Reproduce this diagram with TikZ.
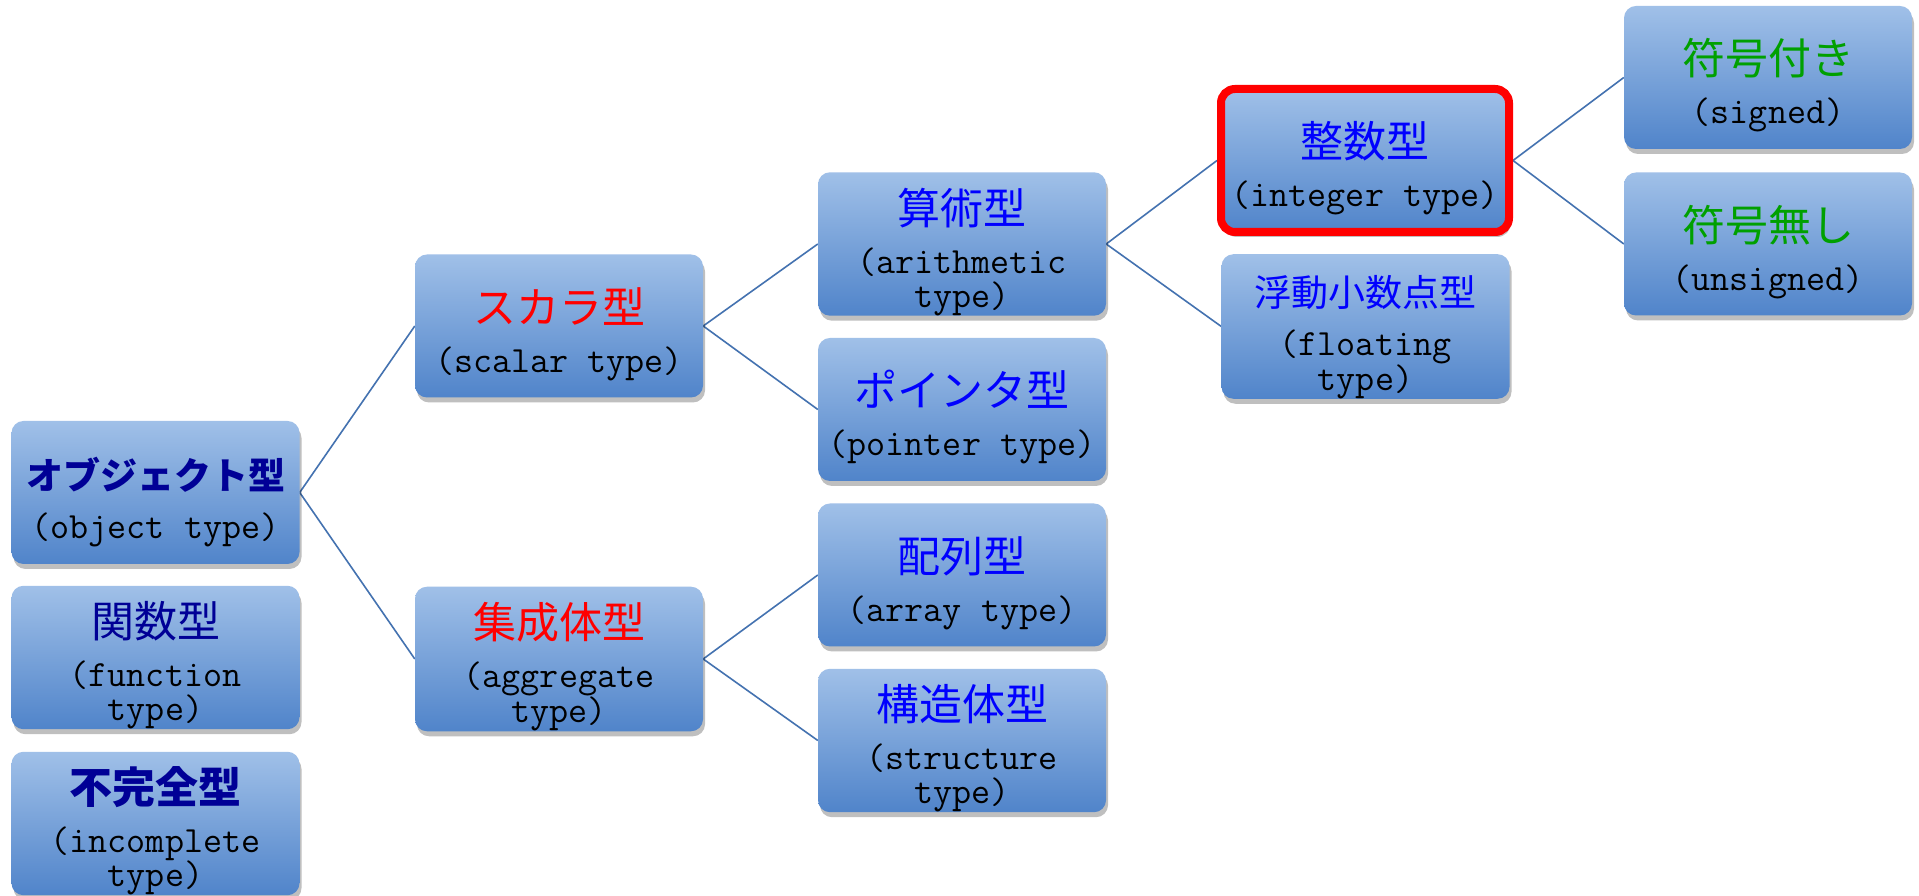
\documentclass[tikz,border=0pt]{standalone}
\usepackage{fontspec}
\usetikzlibrary{shadows,backgrounds}
\newfontfamily\jpf{Noto Sans CJK JP}
\newcommand\jpt[2][43]{{\jpf\fontsize{#1}{#1}\selectfont\rule{0pt}{52pt}#2}}
\definecolor{boxtop}{RGB}{160,192,232}
\definecolor{boxbot}{RGB}{80,132,202}
\definecolor{connc}{RGB}{68,114,176}
\definecolor{navy}{RGB}{0,0,150}
\definecolor{jblue}{RGB}{0,0,255}
\definecolor{jred}{RGB}{255,0,0}
\definecolor{jgreen}{RGB}{0,160,0}
\tikzset{
  tbox/.style={rectangle, rounded corners=12pt, minimum width=288pt, minimum height=143pt,
    inner sep=0pt, top color=boxtop, bottom color=boxbot, draw=none, align=center,
    text=black, font=\ttfamily\fontsize{37}{34}\selectfont,
    drop shadow={shadow xshift=2pt, shadow yshift=-5pt, opacity=0.25, fill=black}},
  redbox/.style={tbox, draw=jred, line width=8pt, rounded corners=14pt},
  conn/.style={draw=connc, line width=1.6pt},
}
\begin{document}
\begin{tikzpicture}[x=1pt,y=1pt]
\useasboundingbox (0,0) rectangle (1919,896);
% column 1
\node[tbox] (obj) at (155.5,403.5) {\jpt[37]{\color{navy}\bfseries オブジェクト型}\\[15pt](object type)};
\node[tbox] (func) at (155.5,238.5) {\jpt{\color{navy}関数型}\\[15pt](function\\type)};
\node[tbox] (incomp) at (155.5,72.5) {\jpt{\color{navy}\bfseries 不完全型}\\[15pt](incomplete\\type)};
% column 2
\node[tbox] (scalar) at (559,570) {\jpt{\color{jred}スカラ型}\\[15pt](scalar type)};
\node[tbox] (aggr) at (559,237) {\jpt{\color{jred}集成体型}\\[15pt](aggregate\\type)};
% column 3
\node[tbox] (arith) at (962,652) {\jpt{\color{jblue}算術型}\\[15pt](arithmetic\\type)};
\node[tbox] (pointer) at (962,486.5) {\jpt{\color{jblue}ポインタ型}\\[15pt](pointer type)};
\node[tbox] (array) at (962,321) {\jpt{\color{jblue}配列型}\\[15pt](array type)};
\node[tbox] (struct) at (962,155.5) {\jpt{\color{jblue}構造体型}\\[15pt](structure\\type)};
% column 4
\node[redbox] (integer) at (1365,735.5) {\jpt{\color{jblue}整数型}\\[15pt](integer type)};
\node[tbox] (floating) at (1365.5,569.5) {\jpt[37]{\color{jblue}浮動小数点型}\\[15pt](floating\\type)};
% column 5
\node[tbox] (signed) at (1768,818.5) {\jpt{\color{jgreen}符号付き}\\[15pt](signed)};
\node[tbox] (unsigned) at (1768,652) {\jpt{\color{jgreen}符号無し}\\[15pt](unsigned)};
% connectors
\begin{scope}[on background layer]
\fill[white] (0,0) rectangle (1919,896);
\draw[conn] (obj.east) -- (scalar.west);
\draw[conn] (obj.east) -- (aggr.west);
\draw[conn] (scalar.east) -- (arith.west);
\draw[conn] (scalar.east) -- (pointer.west);
\draw[conn] (aggr.east) -- (array.west);
\draw[conn] (aggr.east) -- (struct.west);
\draw[conn] (arith.east) -- (integer.west);
\draw[conn] (arith.east) -- (floating.west);
\draw[conn] (integer.east) -- (signed.west);
\draw[conn] (integer.east) -- (unsigned.west);
\end{scope}
\end{tikzpicture}
\end{document}
